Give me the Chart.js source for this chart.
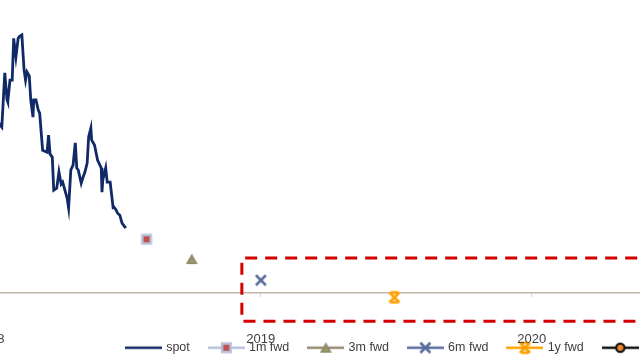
<!DOCTYPE html>
<html><head><meta charset="utf-8">
<script src="https://cdn.jsdelivr.net/npm/chart.js@4/dist/chart.umd.min.js"></script>
<style>
html,body{margin:0;padding:0;width:640px;height:360px;overflow:hidden;background:#fff;}
#wrap{position:absolute;left:-152px;top:0;width:1120px;height:364px;}
</style></head><body>
<div id="wrap"><canvas id="c"></canvas></div>
<script>
// ---- data ----
const spotDates = ['2018-01-01','2018-01-06','2018-01-10','2018-01-14','2018-01-17','2018-01-21','2018-01-24','2018-01-25','2018-01-28','2018-01-31',
 '2018-02-02','2018-02-05','2018-02-08','2018-02-10','2018-02-13','2018-02-16','2018-02-18','2018-02-20','2018-02-23','2018-02-25',
 '2018-02-28','2018-03-01','2018-03-04','2018-03-07','2018-03-09','2018-03-13','2018-03-19','2018-03-21','2018-03-23','2018-03-26',
 '2018-03-28','2018-04-01','2018-04-04','2018-04-07','2018-04-09','2018-04-12','2018-04-15','2018-04-17','2018-04-20','2018-04-23',
 '2018-04-26','2018-04-28','2018-04-30','2018-05-04','2018-05-06','2018-05-09','2018-05-12','2018-05-14','2018-05-17','2018-05-18',
 '2018-05-22','2018-05-26','2018-05-31','2018-06-01','2018-06-02','2018-06-06','2018-06-08','2018-06-12','2018-06-16','2018-06-17',
 '2018-06-20','2018-06-22','2018-06-25','2018-06-28','2018-07-03'];
const spotValues = [53.0,51.8,52.7,51.2,50.3,66.7,58.5,57.9,64.5,64.5,
 77.2,71.5,77.2,77.8,78.2,67.6,64.5,67.0,65.8,58.5,
 53.3,58.5,58.5,55.5,54.5,43.3,42.7,47.9,42.1,41.2,
 31.2,31.8,36.7,33.0,33.6,31.2,28.8,25.8,37.3,38.8,
 45.5,37.9,37.3,33.3,34.8,36.7,39.4,47.3,50.0,46.4,
 44.8,40.3,37.9,30.6,34.2,37.9,33.6,33.6,25.8,26.1,
 25.2,24.2,23.6,21.2,19.7];
const fwdLabels = ['1m fwd','3m fwd','6m fwd','1y fwd','2y fwd'];
const fwdDates  = ['2018-07-31','2018-09-30','2019-01-01','2019-06-30','2020-06-30'];
const fwdValues = [16.3, 10.3, 3.9, -1.3, -4.0];
const boxYears  = [2018.93, 2020.9];   // highlighted period
const boxLevels = [-8.5, 10.6];        // highlighted range
const yearTicks = [2018, 2019, 2020, 2021];

// ---- helpers ----
const FONT = "'Liberation Sans', Arial, sans-serif";
function toYear(s){const [y,m,d]=s.split('-').map(Number);const a=Date.UTC(y,0,1),b=Date.UTC(y+1,0,1);return y+(Date.UTC(y,m-1,d)-a)/(b-a);}
function mk(w,h,draw){const c=document.createElement('canvas');c.width=w;c.height=h;const g=c.getContext('2d');draw(g,w/2,h/2);return c;}
const COL = {spot:'#0f2a66', m1:'#b6c0da', m3:'#958b6e', m6:'#5a6e9e', y1:'#ffa000', y2:'#111111'};
const markers = [
  (g,x,y)=>{g.fillStyle=COL.m1;g.fillRect(x-5.5,y-5.5,11,11);g.fillStyle='#c0504d';g.fillRect(x-3,y-3,6,6);},
  (g,x,y)=>{g.fillStyle=COL.m3;g.beginPath();g.moveTo(x,y-5.5);g.lineTo(x+6,y+5);g.lineTo(x-6,y+5);g.closePath();g.fill();g.fillStyle='#8fbf4a';g.fillRect(x-0.8,y+1,1.6,2);},
  (g,x,y)=>{g.strokeStyle=COL.m6;g.lineWidth=2.6;g.beginPath();g.moveTo(x-5,y-5);g.lineTo(x+5,y+5);g.moveTo(x+5,y-5);g.lineTo(x-5,y+5);g.stroke();},
  (g,x,y)=>{g.strokeStyle=COL.y1;g.lineWidth=2.6;g.beginPath();g.moveTo(x-5,y-5);g.lineTo(x+5,y+5);g.moveTo(x+5,y-5);g.lineTo(x-5,y+5);g.moveTo(x-3.5,y-5);g.lineTo(x+3.5,y-5);g.moveTo(x-3.5,y+5);g.lineTo(x+3.5,y+5);g.stroke();},
  (g,x,y)=>{g.fillStyle='#f0882a';g.strokeStyle=COL.y2;g.lineWidth=2.2;g.beginPath();g.arc(x,y,4.2,0,Math.PI*2);g.fill();g.stroke();}
];
const lineCols=[COL.m1,COL.m3,COL.m6,COL.y1,COL.y2];
const pointIcons = markers.map(f=>mk(14,14,f));
const legendIcons = [mk(37,12,(g,x,y)=>{g.strokeStyle=COL.spot;g.lineWidth=2.6;g.beginPath();g.moveTo(0,y);g.lineTo(37,y);g.stroke();})]
  .concat(markers.map((f,i)=>mk(37,14,(g,x,y)=>{g.strokeStyle=lineCols[i];g.lineWidth=2.6;g.beginPath();g.moveTo(0,y);g.lineTo(37,y);g.stroke();f(g,x,y);})));

const datasets = [{
  label:'spot', data: spotDates.map((d,i)=>({x:toYear(d),y:spotValues[i]})),
  borderColor:COL.spot, borderWidth:2.8, pointRadius:0, tension:0, order:1
}];
fwdLabels.forEach((l,i)=>datasets.push({
  label:l, data:[{x:toYear(fwdDates[i]), y:fwdValues[i]}], showLine:false,
  pointStyle:pointIcons[i], pointRadius:6, borderColor:lineCols[i], backgroundColor:lineCols[i], order:0
}));
datasets.push({
  label:'box', data:[{x:boxYears[1],y:boxLevels[0]},{x:boxYears[0],y:boxLevels[0]},{x:boxYears[0],y:boxLevels[1]},{x:boxYears[1],y:boxLevels[1]}],
  borderColor:'#d40000', borderWidth:3, borderDash:[12,8], pointRadius:0, tension:0, clip:false, order:2
});
const legendNames = ['spot'].concat(fwdLabels);
const setYearTicks = (s)=>{s.ticks=yearTicks.map(v=>({value:v}));};

new Chart(document.getElementById('c'), {
  type:'line',
  data:{datasets},
  options:{
    responsive:true, maintainAspectRatio:false, animation:false, devicePixelRatio:1,
    layout:{autoPadding:false, padding:{left:6.5,right:16.45,top:0,bottom:0}},
    plugins:{
      tooltip:{enabled:false},
      legend:{position:'bottom', align:'center',
        labels:{usePointStyle:true, pointStyleWidth:33, padding:20, color:'#404040',
          font:{family:FONT,size:12.5},
          generateLabels:()=>legendNames.map((t,i)=>({text:t, pointStyle:legendIcons[i], fontColor:'#404040', lineWidth:0,
            strokeStyle:'rgba(0,0,0,0)', fillStyle:'rgba(0,0,0,0)', hidden:false, datasetIndex:i}))}
      }
    },
    scales:{
      x:{type:'linear', min:2017.5, max:2021.55, position:'bottom',
        afterFit:(s)=>{s.height=0;},
        border:{display:false}, grid:{display:false, drawTicks:false},
        afterBuildTicks:setYearTicks,
        ticks:{mirror:true, padding:-26, color:'#404040', font:{family:FONT,size:13}, callback:(v)=>String(v), autoSkip:false, maxRotation:0}
      },
      xZero:{type:'linear', axis:'x', min:2017.5, max:2021.55, position:{y:0},
        afterBuildTicks:setYearTicks,
        border:{display:false},
        grid:{drawOnChartArea:false, drawTicks:true, tickLength:4, lineWidth:1, color:'#d6d6d6'},
        ticks:{display:false}
      },
      y:{min:-8.6, max:88.8, position:'left',
        afterFit:(s)=>{s.width=0;},
        border:{display:false},
        grid:{drawTicks:false, lineWidth:1.4, color:(c)=>c.tick && c.tick.value===0 ? '#bfb7a7' : 'rgba(0,0,0,0)'},
        ticks:{display:false, stepSize:10}
      }
    }
  }
});
</script>
</body></html>
